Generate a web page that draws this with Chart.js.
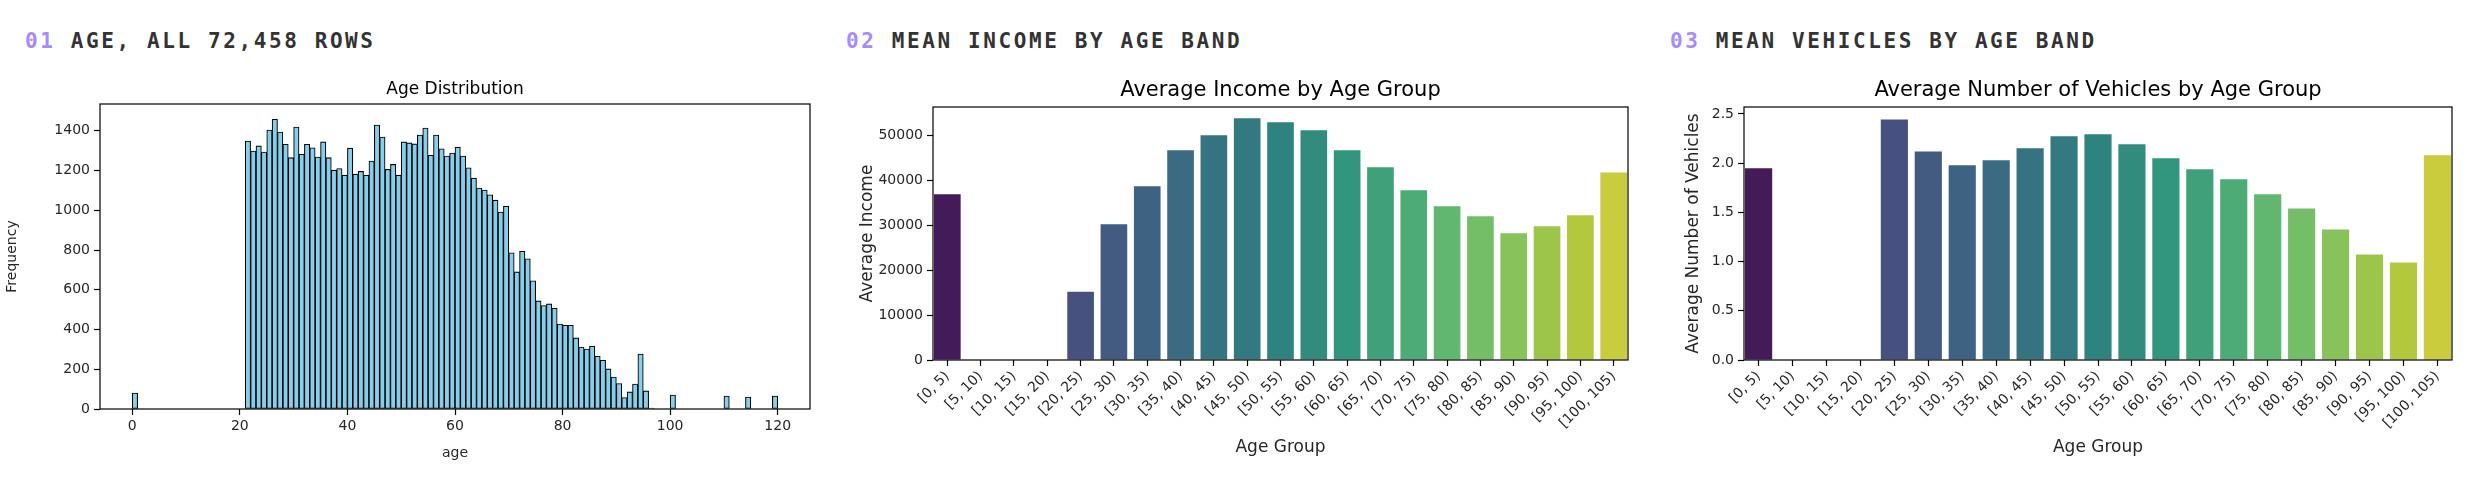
<!DOCTYPE html>
<html><head><meta charset="utf-8">
<script src="https://cdn.jsdelivr.net/npm/chart.js@4/dist/chart.umd.min.js"></script>
<style>
body{margin:0;width:2488px;height:488px;background:#fff;position:relative;overflow:hidden;font-family:"DejaVu Sans",sans-serif}
.hdr{position:absolute;top:29px;font:bold 21px "DejaVu Sans Mono",monospace;letter-spacing:2.6px;color:#333;white-space:nowrap}
.hdr span{color:#a78bfa}
canvas{position:absolute}
</style></head><body>
<div class="hdr" style="left:25px"><span>01</span> AGE, ALL 72,458 ROWS</div>
<div class="hdr" style="left:846px"><span>02</span> MEAN INCOME BY AGE BAND</div>
<div class="hdr" style="left:1670px"><span>03</span> MEAN VEHICLES BY AGE BAND</div>
<canvas id="c1" style="left:0;top:60px;width:830px;height:428px" width="830" height="428"></canvas>
<canvas id="c2" style="left:840px;top:60px;width:820px;height:428px" width="820" height="428"></canvas>
<canvas id="c3" style="left:1665px;top:60px;width:823px;height:428px" width="823" height="428"></canvas>
<script>
// ---- data ----
const histTicks = [0,20,40,60,80,100,120];
const freqTicks = [0,200,400,600,800,1000,1200,1400];
// counts per 1-year bin, bins [k, k+1) for k = 0..119
const ageCounts = [
80,0,0,0,0,0,0,0,0,0, 0,0,0,0,0,0,0,0,0,0,
0,1349,1298,1324,1293,1404,1458,1394,1332,1265, 1419,1282,1332,1315,1268,1344,1265,1202,1210,1177,
1313,1182,1196,1177,1248,1429,1369,1206,1231,1177, 1344,1339,1334,1379,1414,1277,1379,1310,1273,1288,
1318,1273,1214,1162,1112,1102,1078,1051,991,1021, 786,690,794,756,645,544,521,529,507,428,
421,421,358,312,302,316,265,245,202,161, 128,58,86,126,277,91,5,0,0,0,
70,0,0,0,0,0,0,0,0,0, 65,0,0,0,60,0,0,0,0,65];
const ageGroups = ["[0, 5)","[5, 10)","[10, 15)","[15, 20)","[20, 25)","[25, 30)","[30, 35)","[35, 40)","[40, 45)","[45, 50)","[50, 55)","[55, 60)","[60, 65)","[65, 70)","[70, 75)","[75, 80)","[80, 85)","[85, 90)","[90, 95)","[95, 100)","[100, 105)"];
const avgIncome = [36890,null,null,null,15170,30220,38670,46670,50000,53780,52890,51110,46670,42890,37780,34220,32000,28220,29780,32200,41700];
const avgVehicles = [1.947,null,null,null,2.442,2.117,1.978,2.028,2.151,2.273,2.293,2.191,2.049,1.937,1.835,1.683,1.540,1.326,1.072,0.990,2.079];
const incomeTicks = [0,10000,20000,30000,40000,50000];
const vehicleTicks = [0,0.5,1.0,1.5,2.0,2.5];

// ---- colours ----
const vir = ["#440154","#482475","#414487","#355f8d","#2a788e","#21918c","#22a884","#44bf70","#7ad151","#bddf26","#fde725"];
function hex2rgb(h){return [1,3,5].map(i=>parseInt(h.substr(i,2),16)/255);}
function viridis(t){const p=t*10,i=Math.min(9,Math.floor(p)),f=p-i;const a=hex2rgb(vir[i]),b=hex2rgb(vir[i+1]);return a.map((v,k)=>v+(b[k]-v)*f);}
function desat([r,g,b],s){const mx=Math.max(r,g,b),mn=Math.min(r,g,b),l=(mx+mn)/2;let h=0,sat=0;
 if(mx!==mn){const d=mx-mn;sat=l>0.5?d/(2-mx-mn):d/(mx+mn);
  h=mx===r?((g-b)/d+(g<b?6:0)):mx===g?((b-r)/d+2):((r-g)/d+4);h/=6;}
 sat*=s;const q=l<0.5?l*(1+sat):l+sat-l*sat,p=2*l-q;
 const hue=(t)=>{t=(t+1)%1;if(t<1/6)return p+(q-p)*6*t;if(t<1/2)return q;if(t<2/3)return p+(q-p)*(2/3-t)*6;return p;};
 return sat===0?[l,l,l]:[hue(h+1/3),hue(h),hue(h-1/3)];}
const barColors = ageGroups.map((_,k)=>{const c=desat(viridis((k+1)/22),0.75);return `rgb(${c.map(v=>Math.round(v*255)).join(',')})`;});

const FONT="'DejaVu Sans', sans-serif";
Chart.defaults.font.family=FONT;
Chart.defaults.color="#262626";
Chart.defaults.animation=false;

function frame(title,titleY,titleSize){return {id:'frame',afterDraw(ch){const a=ch.chartArea,c=ch.ctx;c.save();c.strokeStyle='#000';c.lineWidth=1.2;
 c.strokeRect(a.left,a.top,a.right-a.left,a.bottom-a.top);
 c.fillStyle='#000';c.font=`${titleSize}px ${FONT}`;c.textAlign='center';c.textBaseline='middle';c.fillText(title,(a.left+a.right)/2,titleY);c.restore();}};}
function axisGrid(){return {display:true,drawOnChartArea:false,drawTicks:true,tickLength:6,color:'#000',tickWidth:1.2,offset:false};}

// ---- chart 1: histogram ----
new Chart(document.getElementById('c1'),{
 type:'bar',
 data:{datasets:[{data:ageCounts.map((v,k)=>({x:k+0.5,y:v})),backgroundColor:'#87ceeb',borderColor:'#000',borderWidth:1.1,barPercentage:1,categoryPercentage:1,borderSkipped:false}]},
 options:{responsive:false,layout:{padding:{top:44,right:20,left:0,bottom:22}},
  plugins:{legend:{display:false},tooltip:{enabled:false}},
  scales:{
   x:{type:'linear',min:-6,max:126,offset:false,border:{display:false},grid:axisGrid(),
     afterBuildTicks:s=>{s.ticks=histTicks.map(v=>({value:v}));},
     ticks:{font:{size:14},color:'#262626',padding:3,maxRotation:0,callback:v=>String(v)},
     title:{display:true,text:'age',font:{size:14},color:'#262626',padding:{top:4}},
     afterFit:s=>{s.height=57;}},
   y:{min:0,max:1535,border:{display:false},grid:axisGrid(),
     afterBuildTicks:s=>{s.ticks=freqTicks.map(v=>({value:v}));},
     ticks:{font:{size:14},color:'#262626',padding:4,callback:v=>String(v)},
     title:{display:true,text:'Frequency',font:{size:14},color:'#262626',padding:{bottom:2}},
     afterFit:s=>{s.width=100;}}
  }},
 plugins:[frame('Age Distribution',30,17)]
});

// ---- bar charts ----
function barChart(id,vals,ticks,max,yTitle,title,yw,lp,rp,fmt){
 new Chart(document.getElementById(id),{
  type:'bar',
  data:{datasets:[{data:vals.map((v,i)=>({x:i,y:v})),backgroundColor:barColors,borderWidth:0,barPercentage:0.8,categoryPercentage:1}]},
  options:{responsive:false,layout:{padding:{top:47,right:rp,left:lp,bottom:26}},
   plugins:{legend:{display:false},tooltip:{enabled:false}},
   scales:{
    x:{type:'linear',min:-0.43,max:20.43,offset:false,border:{display:false},grid:axisGrid(),
      afterBuildTicks:s=>{s.ticks=ageGroups.map((_,i)=>({value:i}));},
      ticks:{font:{size:14},color:'#262626',padding:2,minRotation:45,maxRotation:45,autoSkip:false,callback:v=>ageGroups[v]},
      title:{display:true,text:'Age Group',font:{size:17},color:'#262626',padding:{top:2}},
      afterFit:s=>{s.height=102;}},
    y:{min:0,max:max,border:{display:false},grid:axisGrid(),
      afterBuildTicks:s=>{s.ticks=ticks.map(v=>({value:v}));},
      ticks:{font:{size:14},color:'#262626',padding:4,callback:fmt},
      title:{display:true,text:yTitle,font:{size:17},color:'#262626',padding:{bottom:2}},
      afterFit:s=>{s.width=yw;}}
   }},
  plugins:[frame(title,31,21)]
 });
}
barChart('c2',avgIncome,incomeTicks,56300,'Average Income','Average Income by Age Group',80,13,32,v=>String(v));
barChart('c3',avgVehicles,vehicleTicks,2.57,'Average Number of Vehicles','Average Number of Vehicles by Age Group',65,14,36,v=>v.toFixed(1));
</script></body></html>
